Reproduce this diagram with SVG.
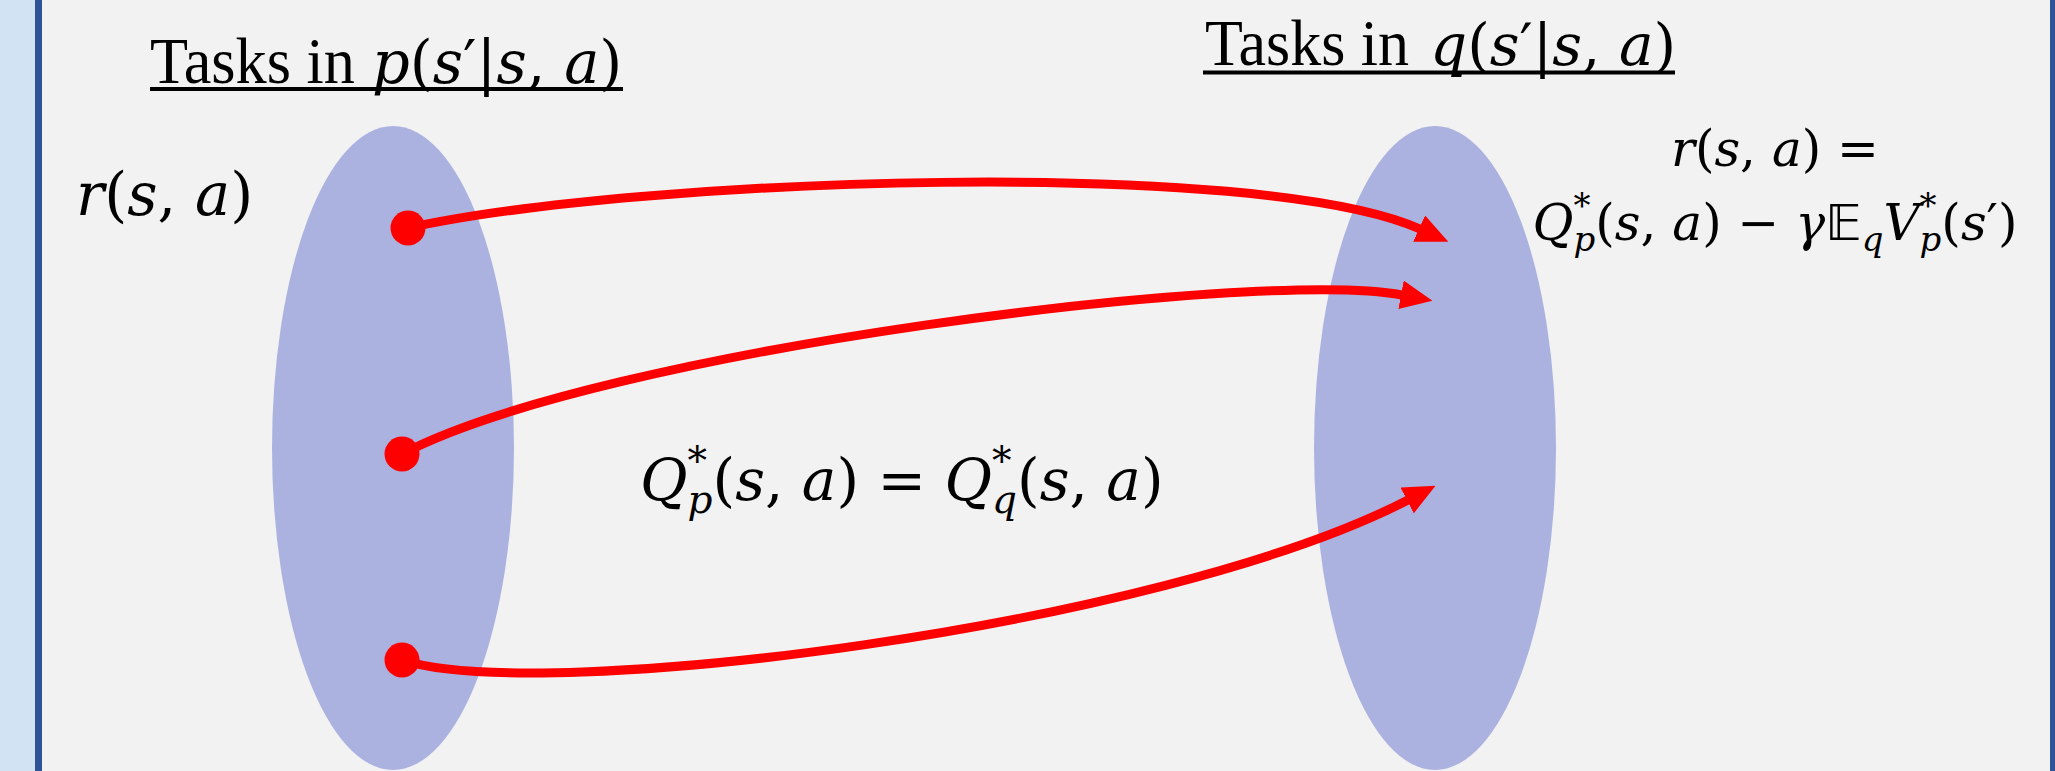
<svg xmlns="http://www.w3.org/2000/svg" width="2055" height="771" viewBox="0 0 2055 771">
<style>
.ttl{font-family:"Liberation Serif","Times New Roman",serif;font-size:66px;fill:#000}
.m{font-family:"DejaVu Serif",serif;font-style:italic;fill:#000}
.u{font-style:normal}
.bb{font-family:"DejaVu Sans",sans-serif;font-style:normal}
.ul{stroke:#000;stroke-width:4}
.conn{fill:none;stroke:#ff0000;stroke-width:9}
.dot{fill:#ff0000}
.set{fill:#abb2e0}
</style>
<defs>
<marker id="ah" markerUnits="userSpaceOnUse" viewBox="0 0 32 29" refX="1" refY="14.5" markerWidth="32" markerHeight="29" orient="auto">
<path d="M0,0 L32,14.5 L0,29 z" fill="#ff0000"/>
</marker>
</defs>
<g id="background">
<rect x="0" y="0" width="2055" height="771" fill="#f2f2f2"/>
<rect x="0" y="0" width="35" height="771" fill="#d2e4f4"/>
<rect x="35" y="0" width="7" height="771" fill="#2f5597"/>
<rect x="2050" y="0" width="5" height="771" fill="#2f5597"/>
</g>
<g id="set-p">
<ellipse class="set" cx="393" cy="448" rx="121" ry="322"/>
</g>
<g id="set-q">
<ellipse class="set" cx="1435" cy="448" rx="121" ry="322"/>
</g>
<g id="title-p">
<text class="ttl" x="150" y="83" textLength="205" lengthAdjust="spacingAndGlyphs">Tasks in</text>
<text class="m" x="372" y="83" font-size="59">p<tspan class="u">(</tspan>s<tspan class="u">′|</tspan>s<tspan class="u">, </tspan>a<tspan class="u">)</tspan></text>
<line class="ul" x1="150" y1="89" x2="623" y2="89"/>
</g>
<g id="title-q">
<text class="ttl" x="1205" y="65" textLength="204" lengthAdjust="spacingAndGlyphs">Tasks in</text>
<text class="m" x="1430" y="65" font-size="58">q<tspan class="u">(</tspan>s<tspan class="u">′|</tspan>s<tspan class="u">, </tspan>a<tspan class="u">)</tspan></text>
<line class="ul" x1="1203" y1="72.5" x2="1675" y2="72.5"/>
</g>
<g id="label-r">
<text class="m" x="76" y="215" font-size="59">r<tspan class="u">(</tspan>s<tspan class="u">, </tspan>a<tspan class="u">)</tspan></text>
</g>
<g id="label-q-equal">
<text class="m" x="640" y="500" font-size="58">Q<tspan class="u" font-size="39" dy="-26">*</tspan><tspan font-size="39" dx="-19.5" dy="39">p</tspan><tspan class="u" dy="-13">(</tspan>s<tspan class="u">, </tspan>a<tspan class="u">) = </tspan>Q<tspan class="u" font-size="39" dy="-26">*</tspan><tspan font-size="39" dx="-19.5" dy="39">q</tspan><tspan class="u" dy="-13">(</tspan>s<tspan class="u">, </tspan>a<tspan class="u">)</tspan></text>
</g>
<g id="label-reward">
<text class="m" x="1775" y="166" font-size="50" text-anchor="middle">r<tspan class="u">(</tspan>s<tspan class="u">, </tspan>a<tspan class="u">) =</tspan></text>
<text class="m" x="1775" y="240" font-size="50" text-anchor="middle">Q<tspan class="u" font-size="34" dy="-23">*</tspan><tspan font-size="34" dx="-17" dy="34">p</tspan><tspan class="u" dy="-11">(</tspan>s<tspan class="u">, </tspan>a<tspan class="u">) − </tspan>γ<tspan class="bb">𝔼</tspan><tspan font-size="34" dy="11">q</tspan><tspan dy="-11">V</tspan><tspan class="u" font-size="34" dy="-23">*</tspan><tspan font-size="34" dx="-17" dy="34">p</tspan><tspan class="u" dy="-11">(</tspan>s<tspan class="u">′)</tspan></text>
</g>
<g id="connectors">
<path class="conn" d="M408,228 C640,177 1260,157 1420,229" marker-end="url(#ah)"/>
<path class="conn" d="M402,454 C600,350 1260,268 1402,295" marker-end="url(#ah)"/>
<path class="conn" d="M402,660 C540,705 1160,628 1408,500" marker-end="url(#ah)"/>
</g>
<g id="node-p1"><circle class="dot" cx="408" cy="228" r="17.5"/></g>
<g id="node-p2"><circle class="dot" cx="402" cy="454" r="17.5"/></g>
<g id="node-p3"><circle class="dot" cx="402" cy="660" r="17.5"/></g>
</svg>
